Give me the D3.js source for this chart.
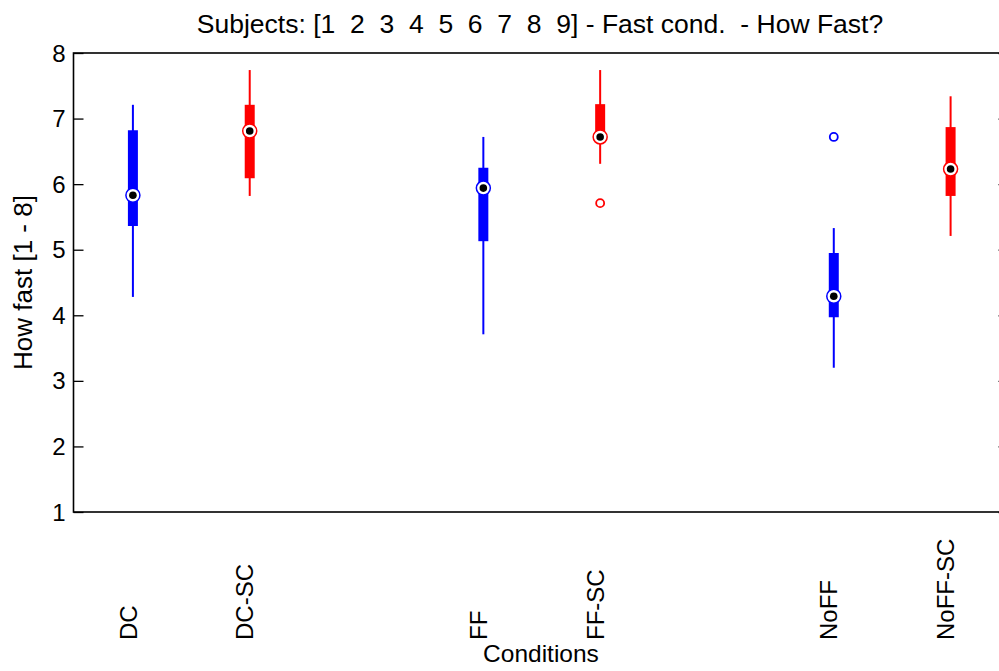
<!DOCTYPE html>
<html>
<head>
<meta charset="utf-8">
<script src="https://cdn.jsdelivr.net/npm/d3@7"></script>
<style>
  html, body { margin: 0; padding: 0; background: #fff; overflow: hidden; }
  svg { display: block; font-family: "Liberation Sans", Arial, sans-serif; }
</style>
</head>
<body>
<svg id="chart" width="999" height="671"></svg>
<script>
// Conditions and their slot on the x axis (gaps between the three pairs)
const conditions = ["DC", "DC-SC", "FF", "FF-SC", "NoFF", "NoFF-SC"];
const positions  = [1, 2, 4, 5, 7, 8];
const groupColor = ["blue", "red", "blue", "red", "blue", "red"];

// Box statistics per condition (rating 1 - 8)
const whiskerLow  = [4.28, 5.82, 3.71, 6.31, 3.20, 5.21];
const quartile1   = [5.36, 6.09, 5.13, 6.66, 3.97, 5.82];
const medians     = [5.83, 6.81, 5.94, 6.72, 4.29, 6.23];
const quartile3   = [6.82, 7.21, 6.25, 7.22, 4.95, 6.87];
const whiskerHigh = [7.21, 7.74, 6.72, 7.74, 5.33, 7.34];
const outliers    = [[], [], [], [5.71], [6.72], []];

const yTicks = [1, 2, 3, 4, 5, 6, 7, 8];
const titleText = "Subjects: [1  2  3  4  5  6  7  8  9] - Fast cond.  - How Fast?";

const svg = d3.select("#chart");
const plotLeft = 73.5, plotRight = 1008.5, plotTop = 53, plotBottom = 512;

const x = d3.scaleLinear().domain([0.5, 8.5]).range([plotLeft + 1, plotRight + 0.5]);
const y = d3.scaleLinear().domain([1, 8]).range([plotBottom, plotTop]);

const rows = conditions.map((c, i) => ({
  name: c, pos: positions[i], color: groupColor[i],
  lo: whiskerLow[i], q1: quartile1[i], med: medians[i],
  q3: quartile3[i], hi: whiskerHigh[i], out: outliers[i]
}));

// Axes: left with inward ticks, right mirrored, plus the frame
const yLeft = d3.axisRight(y).tickValues(yTicks).tickSize(10).tickFormat("");
const gl = svg.append("g").attr("transform", `translate(${plotLeft},0)`).call(yLeft);
gl.select(".domain").remove();
gl.selectAll(".tick line").attr("stroke", "#000").attr("stroke-width", 1.3);

const yRight = d3.axisLeft(y).tickValues(yTicks).tickSize(10).tickFormat("");
const gr = svg.append("g").attr("transform", `translate(${plotRight},0)`).call(yRight);
gr.select(".domain").remove();
gr.selectAll(".tick line").attr("stroke", "#000").attr("stroke-width", 1.3);

svg.append("rect")
  .attr("x", plotLeft).attr("y", plotTop)
  .attr("width", plotRight - plotLeft).attr("height", plotBottom - plotTop)
  .attr("fill", "none").attr("stroke", "#000").attr("stroke-width", 1.6);

// Y tick labels
svg.append("g").selectAll("text").data(yTicks).join("text")
  .attr("x", plotLeft - 8).attr("y", d => y(d))
  .attr("dy", "0.36em")
  .attr("text-anchor", "end")
  .attr("font-size", 24)
  .text(d => d);

// Boxes
const g = svg.append("g").selectAll("g").data(rows).join("g");

g.append("line")
  .attr("x1", d => x(d.pos)).attr("x2", d => x(d.pos))
  .attr("y1", d => y(d.lo)).attr("y2", d => y(d.hi))
  .attr("stroke", d => d.color).attr("stroke-width", 2);

g.append("line")
  .attr("x1", d => x(d.pos)).attr("x2", d => x(d.pos))
  .attr("y1", d => y(d.q1)).attr("y2", d => y(d.q3))
  .attr("stroke", d => d.color).attr("stroke-width", 10);

g.append("circle")
  .attr("cx", d => x(d.pos)).attr("cy", d => y(d.med))
  .attr("r", 7).attr("fill", "#fff")
  .attr("stroke", d => d.color).attr("stroke-width", 1.5);

g.append("circle")
  .attr("cx", d => x(d.pos)).attr("cy", d => y(d.med))
  .attr("r", 3.8).attr("fill", "#000");

g.selectAll(".outlier").data(d => d.out.map(v => ({ v, pos: d.pos, color: d.color })))
  .join("circle").attr("class", "outlier")
  .attr("cx", d => x(d.pos)).attr("cy", d => y(d.v))
  .attr("r", 4).attr("fill", "none")
  .attr("stroke", d => d.color).attr("stroke-width", 1.8);

// Category labels, rotated
svg.append("g").selectAll("text").data(rows).join("text")
  .attr("transform", d => `translate(${x(d.pos)},640) rotate(-90)`)
  .attr("dy", "0.15em")
  .attr("text-anchor", "start")
  .attr("font-size", 24)
  .text(d => d.name);

// Titles
svg.append("text")
  .attr("x", (plotLeft + plotRight) / 2 - 1).attr("y", 33)
  .attr("text-anchor", "middle").attr("font-size", 26.5)
  .style("white-space", "pre")
  .text(titleText);

svg.append("text")
  .attr("x", (plotLeft + plotRight) / 2).attr("y", 662)
  .attr("text-anchor", "middle").attr("font-size", 24.5)
  .text("Conditions");

svg.append("text")
  .attr("transform", `translate(32,${(plotTop + plotBottom) / 2}) rotate(-90)`)
  .attr("text-anchor", "middle").attr("font-size", 26)
  .text("How fast [1 - 8]");
</script>
</body>
</html>
